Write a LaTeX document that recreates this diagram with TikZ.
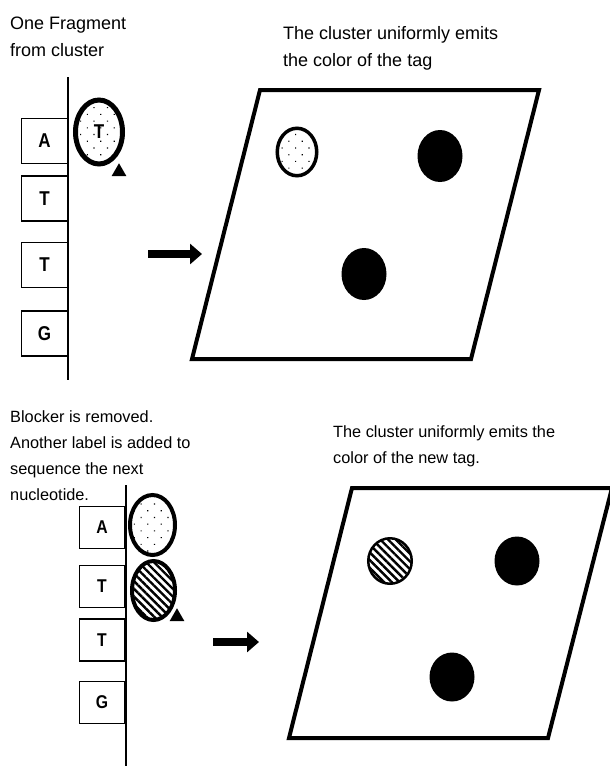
\documentclass[tikz,border=0pt]{standalone}
\usepackage{fontspec}
\setmainfont{Liberation Sans}
\newfontfamily\narrowfont[FakeStretch=0.85]{Liberation Sans}
\usetikzlibrary{arrows.meta,shapes.geometric,patterns.meta}

\begin{document}
\begin{tikzpicture}[x=1pt,y=-1pt,
    basebox/.style={draw,line width=1.1pt,inner sep=0pt},
    bigletter/.style={font=\narrowfont\bfseries\fontsize{20}{20}\selectfont},
    smallletter/.style={font=\narrowfont\bfseries\fontsize{18.5}{19}\selectfont},
    spot/.style={ellipse,inner sep=0pt},
    dotspot/.style={spot,draw,pattern={Dots[distance=9.5pt,angle=45,radius=0.8pt]}},
    hatchspot/.style={spot,draw,pattern={Lines[angle=-45,distance=5.5pt,line width=2.4pt]}},
    darkspot/.style={spot,fill=black},
    blocker/.style={regular polygon,regular polygon sides=3,fill=black,inner sep=0pt,minimum size=17pt},
    backbone/.style={line width=2.4pt},
    slide/.style={line width=4pt},
    bigarrow/.style={line width=8pt,-{Triangle[length=12pt,width=20pt]}},
    note/.style={align=left,inner sep=0pt,anchor=north west}]
  \useasboundingbox (0,0) rectangle (610,766);

  % first cycle: fragment and its tag
  \node[note,font=\fontsize{18}{27}\selectfont] (fragtext) at (10,17) {One Fragment\\from cluster};
  \draw[backbone] (68,77) -- (68,380);
  \node[basebox,bigletter,minimum width=46pt,minimum height=45pt] (boxA) at (44.5,141) {A};
  \node[basebox,bigletter,minimum width=46pt,minimum height=45pt] (boxT) at (44.5,198.5) {T};
  \node[basebox,bigletter,minimum width=46pt,minimum height=45pt] (boxTT) at (44.5,265) {T};
  \node[basebox,bigletter,minimum width=46pt,minimum height=45pt] (boxG) at (44.5,333.5) {G};
  \node[dotspot,bigletter,line width=5pt,minimum width=47pt,minimum height=64pt] (tagT) at (99,132) {T};
  \node[blocker] (blockT) at (119,171.8) {};

  \coordinate (arrowA) at (148,254);
  \coordinate (arrowB) at (202,254);
  \draw[bigarrow] (arrowA) -- (arrowB);

  % first cycle: flow cell image
  \node[note,font=\fontsize{18}{27}\selectfont] (celltext) at (283,26) {The cluster uniformly emits\\the color of the tag};
  \draw[slide] (260,90) -- (539,90) -- (471,359) -- (192,359) -- cycle;
  \node[dotspot,line width=3.5pt,minimum width=39.5pt,minimum height=47.5pt] (cellT) at (297,152) {};
  \node[darkspot,minimum width=45pt,minimum height=52pt] (cellB) at (440,156) {};
  \node[darkspot,minimum width=45pt,minimum height=52pt] (cellC) at (364,274) {};

  % second cycle: next label added
  \node[note,font=\fontsize{16.3}{26}\selectfont] (blocktext) at (10,410) {Blocker is removed.\\Another label is added to\\sequence the next\\nucleotide.};
  \draw[backbone] (126,485) -- (126,766);
  \node[basebox,smallletter,minimum width=45pt,minimum height=42pt] (nboxA) at (102,527.5) {A};
  \node[basebox,smallletter,minimum width=45pt,minimum height=42pt] (nboxT) at (102,586.5) {T};
  \node[basebox,smallletter,minimum width=45pt,minimum height=42pt] (nboxTT) at (102,640) {T};
  \node[basebox,smallletter,minimum width=45pt,minimum height=42pt] (nboxG) at (102,702.5) {G};
  \node[dotspot,line width=4pt,minimum width=45pt,minimum height=60pt] (oldtag) at (152.5,525) {};
  \node[hatchspot,line width=4pt,minimum width=43pt,minimum height=59pt] (newtag) at (153.5,590.5) {};
  \node[blocker] (blockN) at (177,616.8) {};

  \coordinate (arrowC) at (213,642);
  \coordinate (arrowD) at (259,642);
  \draw[bigarrow] (arrowC) -- (arrowD);

  % second cycle: flow cell image
  \node[note,font=\fontsize{16.3}{26}\selectfont] (newtext) at (333,425) {The cluster uniformly emits the\\color of the new tag.};
  \draw[slide] (352,488) -- (612,488) -- (548,738) -- (289,738) -- cycle;
  \node[hatchspot,line width=2.5pt,minimum width=43.5pt,minimum height=45.5pt] (cellN) at (390,561) {};
  \node[darkspot,minimum width=45pt,minimum height=49pt] (cellE) at (517,561) {};
  \node[darkspot,minimum width=45pt,minimum height=49pt] (cellF) at (452,677) {};
\end{tikzpicture}
\end{document}
